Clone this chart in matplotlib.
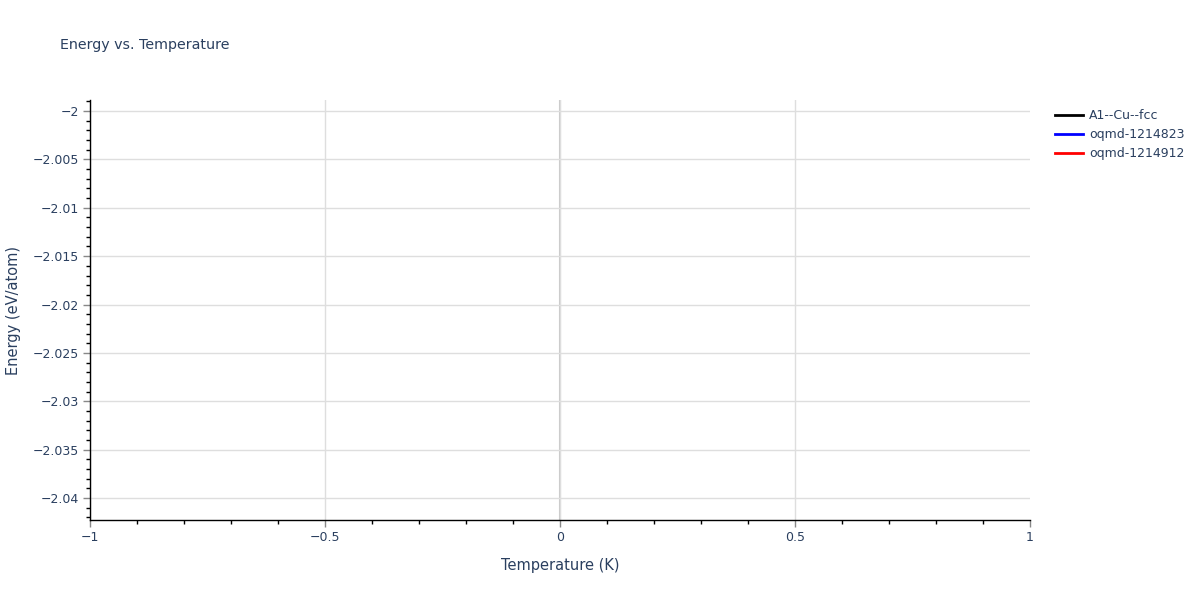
import numpy as np
import matplotlib.pyplot as plt
from matplotlib.ticker import MultipleLocator, FuncFormatter
from matplotlib.lines import Line2D

# series (no data points in the reference, only legend entries)
series_names = ["A1--Cu--fcc", "oqmd-1214823", "oqmd-1214912"]
series_colors = ["black", "blue", "red"]
temperature = [[], [], []]
energy = [[], [], []]

x_range = (-1, 1)
y_range = (-2.04227, -1.99886)

txt = '#2a3f5f'

fig = plt.figure(figsize=(12, 6), dpi=100)
ax = fig.add_axes([90 / 1200, 1 - 520 / 600, 940 / 1200, 420 / 600])

for t, e, c in zip(temperature, energy, series_colors):
    ax.plot(t, e, color=c, linewidth=2)

ax.set_xlim(*x_range)
ax.set_ylim(*y_range)

ax.xaxis.set_major_locator(MultipleLocator(0.5))
ax.xaxis.set_minor_locator(MultipleLocator(0.1))
ax.yaxis.set_major_locator(MultipleLocator(0.005))
ax.yaxis.set_minor_locator(MultipleLocator(0.001))

def fmt(v, pos):
    s = ('%g' % round(v, 4))
    return s.replace('-', '\u2212')

ax.xaxis.set_major_formatter(FuncFormatter(fmt))
ax.yaxis.set_major_formatter(FuncFormatter(fmt))

ax.grid(True, which='major', color='#dedede', linewidth=1)
ax.axvline(0, color='#c8c8c8', linewidth=1.5, zorder=0.5)
ax.set_axisbelow(True)

for side in ['top', 'right']:
    ax.spines[side].set_visible(False)
for side in ['left', 'bottom']:
    ax.spines[side].set_color('black')
    ax.spines[side].set_linewidth(1)

ax.tick_params(which='major', direction='out', length=5, width=1, color='#888888',
               labelsize=9, labelcolor=txt, pad=3)
ax.tick_params(which='minor', direction='out', length=3, width=1, color='black')

ax.set_xlabel('Temperature (K)', fontsize=10.5, color=txt, labelpad=10)
ax.set_ylabel('Energy (eV/atom)', fontsize=10.5, color=txt, labelpad=8)

fig.text(60 / 1200, 1 - 45 / 600, 'Energy vs. Temperature', fontsize=10.3, color=txt,
         va='center', ha='left')

handles = [Line2D([], [], color=c, linewidth=2) for c in series_colors]
fig.legend(handles, series_names, loc='upper left', bbox_to_anchor=(1050 / 1200, 1 - 104 / 600),
           frameon=False, fontsize=9, labelcolor=txt, handlelength=2.2, handletextpad=0.5,
           labelspacing=0.5, borderaxespad=0)

fig.canvas.draw()
for gl, loc in zip(ax.get_xgridlines(), ax.get_xticks()):
    if loc >= x_range[1]:
        gl.set_visible(False)

fig.savefig('out.png', dpi=100)
